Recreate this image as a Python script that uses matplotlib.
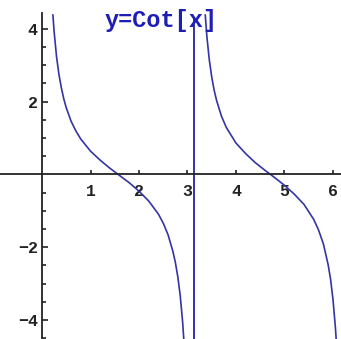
import matplotlib
matplotlib.use("Agg")
import matplotlib.pyplot as plt

# cot(x), one list per branch
x_left = [0.22, 0.25, 0.30, 0.35, 0.40, 0.45, 0.50, 0.60, 0.70, 0.80, 1.00, 1.20,
          1.40, 1.60, 1.80, 2.00, 2.20, 2.40, 2.50, 2.60, 2.70, 2.75, 2.80, 2.85,
          2.90, 2.93]
y_left = [4.47, 3.92, 3.23, 2.74, 2.37, 2.07, 1.83, 1.46, 1.19, 0.97, 0.64, 0.39,
          0.17, -0.03, -0.23, -0.46, -0.73, -1.09, -1.34, -1.66, -2.12, -2.42, -2.81, -3.33,
          -4.06, -4.66]

x_right = [3.36, 3.40, 3.45, 3.50, 3.55, 3.60, 3.70, 3.80, 4.00, 4.20, 4.40, 4.60,
           4.80, 5.00, 5.20, 5.40, 5.60, 5.70, 5.80, 5.90, 5.95, 6.00, 6.05, 6.07]
y_right = [4.50, 3.78, 3.14, 2.67, 2.31, 2.03, 1.60, 1.29, 0.86, 0.57, 0.32, 0.11,
           -0.09, -0.30, -0.54, -0.82, -1.23, -1.52, -1.90, -2.48, -2.88, -3.44, -4.21, -4.62]

asymptote = 3.1416
x_ticks = [1, 2, 3, 4, 5, 6]
y_ticks = [-4, -2, 2, 4]
y_minor = [-4.5, -3.5, -3, -2.5, -1.5, -1, -0.5, 0.5, 1, 1.5, 2.5, 3, 3.5, 4.5]

line_color = "#3434a4"
axis_color = "#222222"
mono = "Liberation Mono"

fig = plt.figure(figsize=(3.41, 3.39), dpi=100)
ax = fig.add_axes([0, 0, 1, 1])
ax.set_xlim(-0.866, 6.165)
ax.set_ylim(-4.52, 4.79)

top = 4.43
ax.plot(x_left, y_left, color=line_color, lw=1.2)
ax.plot(x_right, y_right, color=line_color, lw=1.2)
ax.vlines(asymptote, -4.52, 4.33, color=line_color, lw=1.4)
# blank out anything above the end of the y axis
ax.axhspan(top, 4.79, color="white", zorder=2)

for s in ["top", "right"]:
    ax.spines[s].set_visible(False)
ax.spines["left"].set_position("zero")
ax.spines["bottom"].set_position("zero")
ax.spines["left"].set_bounds(-4.52, top)
for s in ["left", "bottom"]:
    ax.spines[s].set_color(axis_color)
    ax.spines[s].set_linewidth(1.3)
    ax.spines[s].set_zorder(3)

ax.set_xticks(x_ticks)
ax.set_yticks(y_ticks)
ax.set_yticks(y_minor, minor=True)
ax.tick_params(axis="x", direction="in", length=3, width=1.2, pad=7,
               color=axis_color, labelsize=12, labelcolor=axis_color)
ax.tick_params(axis="y", which="major", direction="in", length=4, width=1.2,
               pad=3, color=axis_color, labelsize=12, labelcolor=axis_color)
ax.tick_params(axis="y", which="minor", direction="in", length=3, width=1.2,
               color=axis_color)
for lab in ax.get_xticklabels() + ax.get_yticklabels():
    lab.set_fontfamily(mono)
    lab.set_fontweight("bold")

fig.text(161 / 341, 1 - 20 / 339, "y=Cot[x]", ha="center", va="center",
         fontsize=17, fontfamily=mono, fontweight="bold", color="#1e1eb4",
         zorder=4)

fig.savefig("out.png", dpi=100)
